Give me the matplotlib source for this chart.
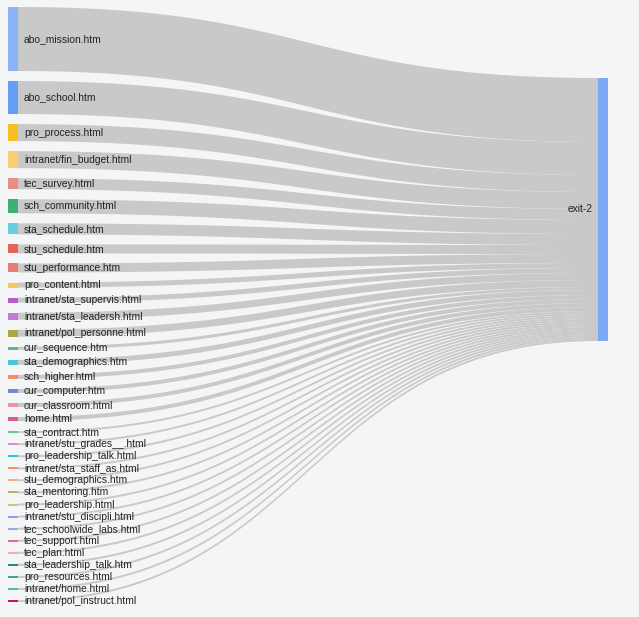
import matplotlib.pyplot as plt
import numpy as np
from matplotlib.patches import Polygon, Rectangle

# sources on the left, all flowing into one exit node
sources = ["abo_mission.htm", "abo_school.htm", "pro_process.html",
           "intranet/fin_budget.html", "tec_survey.html", "sch_community.html",
           "sta_schedule.htm", "stu_schedule.htm", "stu_performance.htm",
           "pro_content.html", "intranet/sta_supervis.html",
           "intranet/sta_leadersh.html", "intranet/pol_personne.html",
           "cur_sequence.htm", "sta_demographics.htm", "sch_higher.html",
           "cur_computer.htm", "cur_classroom.html", "home.html",
           "sta_contract.htm", "intranet/stu_grades__.html",
           "pro_leadership_talk.html", "intranet/sta_staff_as.html",
           "stu_demographics.htm", "sta_mentoring.htm", "pro_leadership.html",
           "intranet/stu_discipli.html", "tec_schoolwide_labs.html",
           "tec_support.html", "tec_plan.html", "sta_leadership_talk.htm",
           "pro_resources.html", "intranet/home.html", "intranet/pol_instruct.html"]
values = [64, 33, 17, 17, 11, 14, 11, 9, 9, 5, 5, 7, 7, 3, 5, 4, 4, 4, 4,
          2, 2, 2, 2, 2, 2, 2, 2, 2, 2, 2, 2, 2, 2, 2]
node_colors = ["#8ab4f8", "#669df6", "#f6bf26", "#f4d06f", "#e88d8a", "#3bb273",
               "#67cfdc", "#e56458", "#e87b72", "#f6c954", "#b65fc8", "#c17dd0",
               "#aaa744", "#5bb98b", "#4cc6d6", "#ff8a65", "#7986cb", "#f48fb1",
               "#d25f8a", "#66c495", "#ce93d8", "#26c6da", "#ff8a65", "#ffab91",
               "#b8b25e", "#c5ca7b", "#8c9eed", "#9fa8da", "#f06292", "#f8a5c2",
               "#26897b", "#4aa399", "#5fb3a6", "#c2185b"]
target = "exit-2"
target_color = "#7baaf7"

W, H = 639, 617
bg = "#f3f5f7"
fig = plt.figure(figsize=(W / 100, H / 100), dpi=100, facecolor=bg)
ax = fig.add_axes([0, 0, 1, 1])
ax.set_xlim(0, W)
ax.set_ylim(H, 0)
ax.axis("off")
ax.set_facecolor(bg)

x0, x1 = 8, 18          # left node column
tx0, tx1 = 598, 608     # target node
top, bottom = 7, 602
total = sum(values)
pad = (bottom - top - total) / (len(values) - 1)
t_top = 78

def bez(xa, ya, xb, yb, n=80):
    t = np.linspace(0, 1, n)
    xm = (xa + xb) / 2
    x = (1-t)**3*xa + 3*(1-t)**2*t*xm + 3*(1-t)*t**2*xm + t**3*xb
    y = (1-t)**3*ya + 3*(1-t)**2*t*ya + 3*(1-t)*t**2*yb + t**3*yb
    return x, y

y = top
ty = t_top
for name, v, c in zip(sources, values, node_colors):
    # link band
    xa, ya = bez(x1, y, tx0, ty)
    xb, yb = bez(x1, y + v, tx0, ty + v)
    pts = np.vstack([np.column_stack([xa, ya]), np.column_stack([xb, yb])[::-1]])
    ax.add_patch(Polygon(pts, closed=True, facecolor="#c8c9c8", edgecolor="none", zorder=1))
    ax.add_patch(Rectangle((x0, y), x1 - x0, v, facecolor=c, edgecolor="none", zorder=2))
    ax.text(24, y + v / 2, name, ha="left", va="center", fontsize=7.4,
            family="Liberation Sans", color="#222222", zorder=3)
    y += v + pad
    ty += v

ax.add_patch(Rectangle((tx0, t_top), tx1 - tx0, total, facecolor=target_color,
                       edgecolor="none", zorder=2))
ax.text(tx0 - 5, t_top + total / 2, target, ha="right", va="center", fontsize=7.4,
        family="Liberation Sans", color="#222222", zorder=3)

plt.savefig("out.png", dpi=100, facecolor=bg)
